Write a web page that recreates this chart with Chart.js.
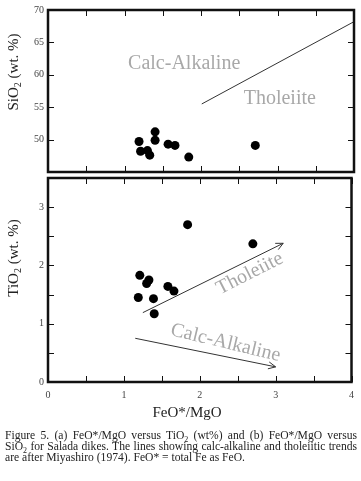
<!DOCTYPE html>
<html>
<head>
<meta charset="utf-8">
<script src="https://cdn.jsdelivr.net/npm/chart.js@4.4.0/dist/chart.umd.min.js"></script>
<style>
  body { margin: 0; background: #fff; width: 361px; height: 481px; position: relative; overflow: hidden; font-family: "Liberation Serif", serif; }
  #topChart { position: absolute; left: 0; top: 0; }
  #bottomChart { position: absolute; left: 0; top: 168px; }
  #caption { position: absolute; left: 5px; top: 430px; width: 352px; margin: 0; font-size: 11.6px; line-height: 11px; text-align: justify; color: #222; }
  #caption sub { font-size: 8px; line-height: 0; }
</style>
</head>
<body>
<canvas id="topChart" width="361" height="182"></canvas>
<canvas id="bottomChart" width="361" height="260"></canvas>
<p id="caption">Figure 5. (a) FeO*/MgO versus TiO<sub>2</sub> (wt%) and (b) FeO*/MgO versus SiO<sub>2</sub> for Salada dikes. The lines showing calc-alkaline and tholeiitic trends are after Miyashiro (1974). FeO* = total Fe as FeO.</p>
<script>
// (b) FeO*/MgO vs SiO2
const siRatio = [1.19, 1.21, 1.30, 1.33, 1.40, 1.40, 1.57, 1.66, 1.84, 2.71];
const sio2 = [49.7, 48.2, 48.3, 47.6, 51.2, 49.9, 49.3, 49.1, 47.3, 49.1];
// (a) FeO*/MgO vs TiO2
const tiRatio = [1.19, 1.21, 1.30, 1.33, 1.39, 1.40, 1.58, 1.66, 1.84, 2.70];
const tio2 = [1.45, 1.83, 1.69, 1.75, 1.43, 1.17, 1.64, 1.56, 2.70, 2.37];
// Miyashiro trend lines
const siDivideX = [2.01, 4.0];
const siDivideY = [55.5, 68.2];
const thoArrowX = [1.25, 3.10];
const thoArrowY = [1.19, 2.38];
const calcArrowX = [1.15, 3.0];
const calcArrowY = [0.75, 0.26];
const xTicks = [0, 1, 2, 3, 4];
const siTicks = [50, 55, 60, 65, 70];
const tiTicks = [0, 1, 2, 3];

const serif = '"Liberation Serif", "Times New Roman", serif';
const pts = (xs, ys) => xs.map((x, i) => ({ x: x, y: ys[i] }));

// frame + inward ticks, arrowheads, field labels, axis titles
const framePlugin = {
  id: 'frame',
  afterDraw(chart, args, opts) {
    const ctx = chart.ctx;
    const a = chart.chartArea;
    const xs = chart.scales.x, ys = chart.scales.y;
    ctx.save();
    ctx.strokeStyle = '#111';
    // arrows
    chart.data.datasets.forEach((ds, i) => {
      if (!ds.arrow) return;
      const d = ds.data;
      const p1 = { x: xs.getPixelForValue(d[0].x), y: ys.getPixelForValue(d[0].y) };
      const p2 = { x: xs.getPixelForValue(d[1].x), y: ys.getPixelForValue(d[1].y) };
      const ang = Math.atan2(p2.y - p1.y, p2.x - p1.x);
      ctx.lineWidth = 1;
      ctx.strokeStyle = '#333';
      ctx.beginPath();
      ctx.moveTo(p2.x - 8 * Math.cos(ang - 0.45), p2.y - 8 * Math.sin(ang - 0.45));
      ctx.lineTo(p2.x, p2.y);
      ctx.lineTo(p2.x - 8 * Math.cos(ang + 0.45), p2.y - 8 * Math.sin(ang + 0.45));
      ctx.stroke();
    });
    // field labels
    ctx.fillStyle = '#a8a8a8';
    ctx.font = '20px ' + serif;
    ctx.textAlign = 'center';
    ctx.textBaseline = 'middle';
    (opts.notes || []).forEach(n => {
      ctx.save();
      ctx.translate(xs.getPixelForValue(n.x), ys.getPixelForValue(n.y));
      ctx.rotate(n.rot * Math.PI / 180);
      ctx.fillText(n.text, 0, 0);
      ctx.restore();
    });
    // frame
    ctx.strokeStyle = '#111';
    ctx.lineWidth = 2.5;
    ctx.strokeRect(a.left, a.top, a.right - a.left, a.bottom - a.top);
    ctx.lineWidth = 1;
    ctx.beginPath();
    for (let v = xs.min; v <= xs.max + 1e-9; v += 0.5) {
      const px = Math.round(xs.getPixelForValue(v)) + 0.5;
      ctx.moveTo(px, a.top); ctx.lineTo(px, a.top + 6);
      ctx.moveTo(px, a.bottom); ctx.lineTo(px, a.bottom - 6);
    }
    for (let v = ys.min; v <= ys.max + 1e-9; v += opts.yStep) {
      const py = Math.round(ys.getPixelForValue(v)) + 0.5;
      ctx.moveTo(a.left, py); ctx.lineTo(a.left + 6, py);
      ctx.moveTo(a.right, py); ctx.lineTo(a.right - 6, py);
    }
    ctx.stroke();
    // y title with subscript
    if (opts.yTitle) {
      const t = opts.yTitle;
      ctx.fillStyle = '#222';
      ctx.textAlign = 'left';
      ctx.textBaseline = 'alphabetic';
      ctx.font = '15px ' + serif;
      const w1 = ctx.measureText(t[0]).width;
      const w3 = ctx.measureText(t[2]).width;
      ctx.font = '10px ' + serif;
      const w2 = ctx.measureText(t[1]).width;
      const total = w1 + w2 + w3;
      ctx.save();
      ctx.translate(opts.yTitleAt[0], opts.yTitleAt[1]);
      ctx.rotate(-Math.PI / 2);
      ctx.font = '15px ' + serif;
      ctx.fillText(t[0], -total / 2, 5);
      ctx.font = '10px ' + serif;
      ctx.fillText(t[1], -total / 2 + w1, 8);
      ctx.font = '15px ' + serif;
      ctx.fillText(t[2], -total / 2 + w1 + w2, 5);
      ctx.restore();
    }
    if (opts.xTitle) {
      ctx.fillStyle = '#222';
      ctx.textAlign = 'center';
      ctx.textBaseline = 'middle';
      ctx.font = '15px ' + serif;
      ctx.fillText(opts.xTitle, opts.xTitleAt[0], opts.xTitleAt[1]);
    }
    ctx.restore();
  }
};

const tickFont = { family: serif, size: 10 };

new Chart(document.getElementById('topChart'), {
  type: 'scatter',
  data: {
    datasets: [
      { data: pts(siDivideX, siDivideY), showLine: true, pointRadius: 0, borderColor: '#333', borderWidth: 1 },
      { data: pts(siRatio, sio2), pointRadius: 4.5, backgroundColor: '#000', borderWidth: 0 }
    ]
  },
  options: {
    responsive: false,
    animation: false,
    layout: { padding: { top: 7, right: 7, bottom: 7, left: 0 } },
    plugins: {
      legend: { display: false },
      tooltip: { enabled: false },
      frame: {
        yStep: 5,
        notes: [
          { text: 'Calc-Alkaline', x: 1.78, y: 61.7, rot: 0 },
          { text: 'Tholeiite', x: 3.03, y: 56.3, rot: 0 }
        ],
        yTitle: ['SiO', '2', ' (wt. %)'],
        yTitleAt: [13, 72]
      }
    },
    scales: {
      x: { type: 'linear', display: false, min: 0, max: 4 },
      y: {
        min: 45, max: 70,
        afterFit: s => { s.width = 48; },
        afterBuildTicks: s => { s.ticks = siTicks.map(v => ({ value: v })); },
        grid: { display: false, drawTicks: false },
        border: { display: false },
        ticks: { font: tickFont, color: '#444', padding: 4 }
      }
    }
  },
  plugins: [framePlugin]
});

new Chart(document.getElementById('bottomChart'), {
  type: 'scatter',
  data: {
    datasets: [
      { data: pts(thoArrowX, thoArrowY), showLine: true, pointRadius: 0, borderColor: '#333', borderWidth: 1, arrow: true },
      { data: pts(calcArrowX, calcArrowY), showLine: true, pointRadius: 0, borderColor: '#333', borderWidth: 1, arrow: true },
      { data: pts(tiRatio, tio2), pointRadius: 4.5, backgroundColor: '#000', borderWidth: 0 }
    ]
  },
  options: {
    responsive: false,
    animation: false,
    layout: { padding: { top: 7, right: 7, bottom: 0, left: 0 } },
    plugins: {
      legend: { display: false },
      tooltip: { enabled: false },
      frame: {
        yStep: 0.5,
        notes: [
          { text: 'Tholeiite', x: 2.66, y: 1.86, rot: -27 },
          { text: 'Calc-Alkaline', x: 2.34, y: 0.67, rot: 13.5 }
        ],
        yTitle: ['TiO', '2', ' (wt. %)'],
        yTitleAt: [13, 90],
        xTitle: 'FeO*/MgO',
        xTitleAt: [187, 245]
      }
    },
    scales: {
      x: {
        type: 'linear', min: 0, max: 4,
        afterFit: s => { s.height = 46; },
        afterBuildTicks: s => { s.ticks = xTicks.map(v => ({ value: v })); },
        grid: { display: false, drawTicks: false },
        border: { display: false },
        ticks: { font: tickFont, color: '#444', padding: 7, maxRotation: 0 }
      },
      y: {
        min: 0, max: 3.5,
        afterFit: s => { s.width = 48; },
        afterBuildTicks: s => { s.ticks = tiTicks.map(v => ({ value: v })); },
        grid: { display: false, drawTicks: false },
        border: { display: false },
        ticks: { font: tickFont, color: '#444', padding: 4 }
      }
    }
  },
  plugins: [framePlugin]
});
</script>
</body>
</html>
